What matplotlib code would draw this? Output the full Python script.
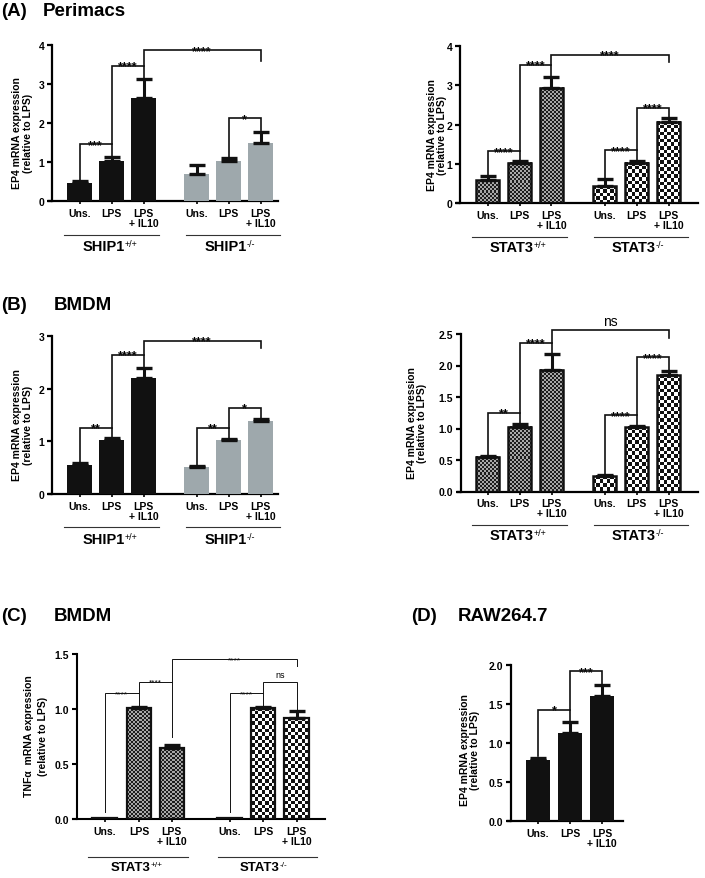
import numpy as np
import matplotlib
matplotlib.use("Agg")
import matplotlib.pyplot as plt
from matplotlib.colors import ListedColormap
from matplotlib.transforms import blended_transform_factory

plt.rcParams['font.family'] = ['Liberation Sans', 'DejaVu Sans']
plt.rcParams['font.weight'] = 'bold'

# ---------------- data ----------------
conditions = ["Uns.", "LPS", "LPS\n+ IL10"]
ship_groups = [("SHIP1", "+/+"), ("SHIP1", "-/-")]
stat_groups = [("STAT3", "+/+"), ("STAT3", "-/-")]

a_left_vals = [0.45, 1.03, 2.65, 0.68, 1.03, 1.48]
a_left_err = [0.07, 0.10, 0.47, 0.24, 0.08, 0.30]
a_right_vals = [0.58, 1.02, 2.93, 0.43, 1.03, 2.07]
a_right_err = [0.12, 0.05, 0.27, 0.17, 0.04, 0.10]

b_left_vals = [0.55, 1.02, 2.20, 0.52, 1.02, 1.38]
b_left_err = [0.03, 0.05, 0.20, 0.02, 0.02, 0.04]
b_right_vals = [0.55, 1.02, 1.93, 0.25, 1.02, 1.85]
b_right_err = [0.02, 0.05, 0.26, 0.01, 0.02, 0.07]

c_vals = [0.01, 1.01, 0.65, 0.01, 1.01, 0.92]
c_err = [0.0, 0.01, 0.02, 0.0, 0.01, 0.06]

d_vals = [0.79, 1.13, 1.60]
d_err = [0.02, 0.14, 0.15]

# brackets: (bar i, bar j, height, left leg bottom, right leg bottom, label)
a_left_sig = [(0, 1, 1.45, 0.55, 1.15, "***"), (1, 2, 3.46, 1.45, 3.13, "****"),
              (2, 5, 3.87, 3.46, 3.60, "****"), (4, 5, 2.12, 1.13, 1.80, "*")]
a_right_sig = [(0, 1, 1.32, 0.72, 1.08, "****"), (1, 2, 3.52, 1.32, 3.21, "****"),
               (2, 5, 3.77, 3.52, 3.59, "****"), (3, 4, 1.34, 0.61, 1.08, "****"),
               (4, 5, 2.42, 1.34, 2.18, "****")]
b_left_sig = [(0, 1, 1.26, 0.59, 1.08, "**"), (1, 2, 2.64, 1.26, 2.41, "****"),
              (2, 5, 2.91, 2.64, 2.77, "****"), (3, 4, 1.26, 0.55, 1.05, "**"),
              (4, 5, 1.64, 1.26, 1.43, "*")]
b_right_sig = [(0, 1, 1.25, 0.58, 1.08, "**"), (1, 2, 2.36, 1.25, 2.20, "****"),
               (2, 5, 2.57, 2.36, 2.44, "ns"), (3, 4, 1.21, 0.27, 1.05, "****"),
               (4, 5, 2.13, 1.21, 1.93, "****")]
c_sig = [(0, 1, 1.145, 0.07, 1.03, "****"), (1, 2, 1.25, 1.145, 0.745, "****"),
         (2, 5, 1.457, 1.25, 1.39, "****"), (3, 4, 1.145, 0.07, 1.03, "****"),
         (4, 5, 1.25, 1.145, 0.99, "ns")]
d_sig = [(0, 1, 1.43, 0.83, 1.28, "*"), (1, 2, 1.92, 1.43, 1.76, "***")]

W, H = 705, 879
fig = plt.figure(figsize=(W / 100, H / 100), dpi=100)

BLACK = "#111111"
GREY = "#9ea8ac"
DENSE = ["#1e1e1e", "#a8a8a8"]
COARSE = ["#111111", "#ffffff"]


def make_axes(x0, x1, ytop, ybot):
    return fig.add_axes([x0 / W, 1 - ybot / H, (x1 - x0) / W, (ybot - ytop) / H])


def checker(ax, bar, cell, colors):
    x0, y0 = bar.get_x(), bar.get_y()
    w, h = bar.get_width(), bar.get_height()
    p0 = ax.transData.transform((x0, y0))
    p1 = ax.transData.transform((x0 + w, y0 + h))
    nc = max(1, int(round((p1[0] - p0[0]) / cell)))
    nr = max(1, int(round((p1[1] - p0[1]) / cell)))
    grid = np.add.outer(np.arange(nr), np.arange(nc)) % 2
    ax.imshow(grid, cmap=ListedColormap(colors), vmin=0, vmax=1,
              extent=(x0, x0 + w, y0, y0 + h), origin="lower",
              aspect="auto", interpolation="nearest", zorder=2)


def panel(ax, pos, vals, errs, width, xlim, ylim, yticks, ylabels, fills,
          sig, thin=False, groups=None, group_fs=10.5, line_off=34, label_off=45,
          spine_w=1.6):
    ax.set_xlim(*xlim)
    ax.set_ylim(*ylim)
    for s in ["top", "right"]:
        ax.spines[s].set_visible(False)
    ax.spines["left"].set_linewidth(spine_w)
    ax.spines["bottom"].set_linewidth(spine_w)
    ax.spines["bottom"].set_bounds(xlim[0] - 0.1, xlim[1])

    for k in range(len(vals)):
        f = fills[k]
        if f == "black" or f == "grey":
            ax.bar(pos[k], vals[k], width, color=BLACK if f == "black" else GREY,
                   zorder=3)
        else:
            b = ax.bar(pos[k], vals[k], width, facecolor="none", edgecolor=BLACK,
                       linewidth=1.8 if not thin else 1.6, zorder=3)[0]
            if f == "dense":
                checker(ax, b, 2.0, DENSE)
            else:
                checker(ax, b, 3.6, COARSE)
        if errs[k] > 0:
            ax.errorbar(pos[k], vals[k], yerr=[[0], [errs[k]]], fmt="none",
                        ecolor=BLACK, elinewidth=2.2, capsize=6, capthick=2.4,
                        zorder=4)
    ax.set_xlim(*xlim)
    ax.set_ylim(*ylim)

    ax.set_yticks(yticks)
    ax.set_yticklabels(ylabels, fontsize=7.5, fontweight="bold")
    ax.set_xticks(pos)
    ax.set_xticklabels(conditions * (len(pos) // 3), fontsize=7.5, fontweight="bold",
                       linespacing=1.0)
    ax.tick_params(axis="y", length=3.5, width=spine_w, pad=2)
    ax.tick_params(axis="x", length=2.5, width=1.2, pad=2.5)

    blw = 0.7 if thin else 1.2
    for i, j, y, lb, rb, lab in sig:
        ax.plot([pos[i], pos[i], pos[j], pos[j]], [lb, y, y, rb], color=BLACK,
                lw=blw, clip_on=False, zorder=5, solid_joinstyle="miter")
        xm = (pos[i] + pos[j]) / 2
        if lab == "ns":
            fs = 6.5 if thin else 10
            ax.annotate(lab, (xm, y), xytext=(0, 1.5), textcoords="offset points",
                        ha="center", va="bottom", fontsize=fs, fontweight="normal",
                        annotation_clip=False)
        else:
            fs = 6 if thin else 9
            ax.annotate(lab, (xm, y), xytext=(0, -2.6 if not thin else -1.6),
                        textcoords="offset points", ha="center", va="baseline",
                        fontsize=fs, fontweight="normal" if thin else "bold",
                        annotation_clip=False)

    if groups:
        trans = blended_transform_factory(ax.transData, ax.transAxes)
        hpx = ax.bbox.height
        for g, (name, sup) in enumerate(groups):
            c0, c1 = pos[3 * g], pos[3 * g + 2]
            dl, dr = (0.5, 0.47) if g == 0 else (0.33, 0.6)
            ax.plot([c0 - dl, c1 + dr], [-line_off / hpx] * 2, color="#333333",
                    lw=0.8, transform=trans, clip_on=False)
            xc = pos[3 * g + 1] - 0.25 + (0 if g == 0 else 0.15)
            t = ax.text(xc, -label_off / hpx, name, transform=trans, ha="center",
                        va="center", fontsize=group_fs)
            ax.annotate(sup, xy=(1.0, 1.0), xycoords=t, xytext=(0.3, 0.3),
                        textcoords="offset points", ha="left", va="top",
                        fontsize=group_fs * 0.62, fontweight="normal")


pos_ab = [0, 1, 2, 3.66, 4.66, 5.66]
pos_c = [0, 1.03, 2.01, 3.73, 4.73, 5.73]
pos_d = [0, 1, 2]

ship_fill = ["black"] * 3 + ["grey"] * 3
stat_fill = ["dense"] * 3 + ["coarse"] * 3

# ---- (A) Perimacs
ax = make_axes(52, 278, 46, 202)
panel(ax, pos_ab, a_left_vals, a_left_err, 0.78, (-0.86, 6.2), (0, 4),
      [0, 1, 2, 3, 4], ["0", "1", "2", "3", "4"], ship_fill, a_left_sig,
      groups=ship_groups)
ax = make_axes(460, 698, 47, 204)
panel(ax, pos_ab, a_right_vals, a_right_err, 0.74, (-0.86, 6.58), (0, 4),
      [0, 1, 2, 3, 4], ["0", "1", "2", "3", "4"], stat_fill, a_right_sig,
      groups=stat_groups, label_off=44)

# ---- (B) BMDM
ax = make_axes(52, 278, 337, 495)
panel(ax, pos_ab, b_left_vals, b_left_err, 0.78, (-0.86, 6.2), (0, 3),
      [0, 1, 2, 3], ["0", "1", "2", "3"], ship_fill, b_left_sig,
      groups=ship_groups, line_off=33, label_off=45)
ax = make_axes(461, 698, 335, 492.5)
panel(ax, pos_ab, b_right_vals, b_right_err, 0.74, (-0.83, 6.58), (0, 2.5),
      [0, 0.5, 1, 1.5, 2, 2.5], ["0.0", "0.5", "1.0", "1.5", "2.0", "2.5"],
      stat_fill, b_right_sig, groups=stat_groups, line_off=33, label_off=44)

# ---- (C) BMDM TNFa
ax = make_axes(76.7, 325, 655, 820.3)
panel(ax, pos_c, c_vals, c_err, 0.72, (-0.83, 6.58), (0, 1.5),
      [0, 0.5, 1, 1.5], ["0.0", "0.5", "1.0", "1.5"], stat_fill, c_sig,
      thin=True, groups=stat_groups, group_fs=9.5, line_off=38, label_off=48,
      spine_w=1.5)

# ---- (D) RAW264.7
ax = make_axes(511, 623, 666, 822.3)
panel(ax, pos_d, d_vals, d_err, 0.75, (-0.84, 2.66), (0, 2),
      [0, 0.5, 1, 1.5, 2], ["0.0", "0.5", "1.0", "1.5", "2.0"],
      ["black"] * 3, d_sig)

# ---- y labels
ep4 = "EP4 mRNA expression\n(relative to LPS)"
for x, y in [(22.5, 133), (437, 135), (22.5, 425), (417, 423), (470, 750)]:
    fig.text(x / W, 1 - y / H, ep4, rotation=90, ha="center", va="center",
             fontsize=7.5, fontweight="bold", linespacing=1.1)
fig.text(36 / W, 1 - 736 / H, "TNF\u03b1  mRNA expression\n(relative to LPS)",
         rotation=90, ha="center", va="center", fontsize=7.5, fontweight="bold",
         linespacing=1.6)

# ---- panel titles
for lab, x, y in [("(A)", 1, 12), ("(B)", 1, 305), ("(C)", 1, 617), ("(D)", 411, 617)]:
    fig.text(x / W, 1 - y / H, lab, ha="left", va="center", fontsize=13.5,
             fontweight="bold")
for lab, x, y in [("Perimacs", 43, 12), ("BMDM", 54, 305), ("BMDM", 54, 617),
                  ("RAW264.7", 458, 617)]:
    fig.text(x / W, 1 - y / H, lab, ha="left", va="center", fontsize=13.5,
             fontweight="bold")

fig.savefig("out.png", dpi=100)
